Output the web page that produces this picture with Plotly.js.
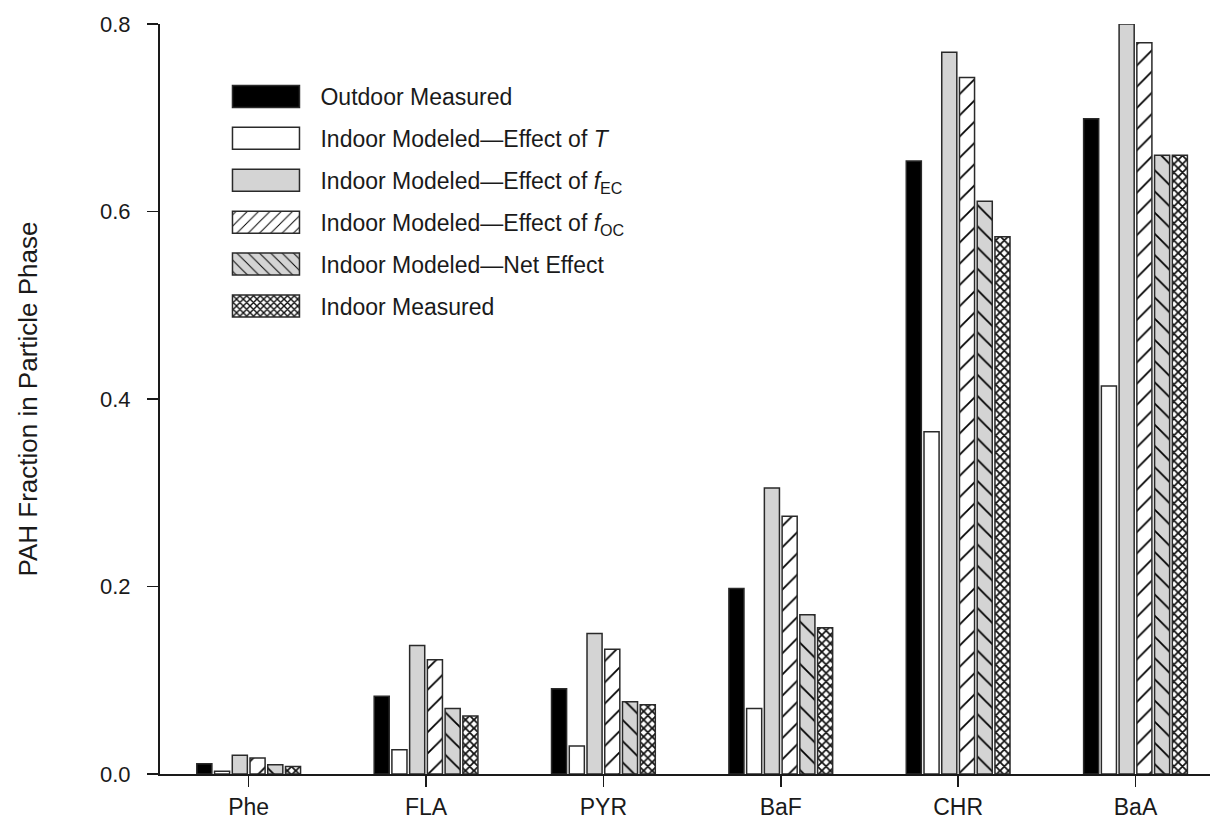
<!DOCTYPE html>
<html>
<head>
<meta charset="utf-8">
<script src="https://cdn.plot.ly/plotly-3.0.1.min.js"></script>
<style>
  html, body { margin: 0; padding: 0; background: #fff; }
  #chart { width: 1210px; height: 820px; }
</style>
</head>
<body>
<div id="chart"></div>
<script>
// ---- data ----
var categories = ['Phe', 'FLA', 'PYR', 'BaF', 'CHR', 'BaA'];
var outdoorMeasured = [0.011, 0.083, 0.091, 0.198, 0.654, 0.699];
var modeledT        = [0.003, 0.026, 0.030, 0.070, 0.365, 0.414];
var modeledFEC      = [0.020, 0.137, 0.150, 0.305, 0.770, 0.800];
var modeledFOC      = [0.017, 0.122, 0.133, 0.275, 0.743, 0.780];
var modeledNet      = [0.010, 0.070, 0.077, 0.170, 0.611, 0.660];
var indoorMeasured  = [0.008, 0.062, 0.074, 0.156, 0.573, 0.660];

var seriesNames = [
  'Outdoor Measured',
  'Indoor Modeled\u2014Effect of <i>T</i>',
  'Indoor Modeled\u2014Effect of <i>f</i><sub>EC</sub>',
  'Indoor Modeled\u2014Effect of <i>f</i><sub>OC</sub>',
  'Indoor Modeled\u2014Net Effect',
  'Indoor Measured'
];
var seriesValues = [outdoorMeasured, modeledT, modeledFEC, modeledFOC, modeledNet, indoorMeasured];

// ---- styles ----
var FONT = 'Liberation Sans, Arial, Helvetica, sans-serif';
var INK = '#1a1a1a';
var GRAY = '#d4d4d4';
var styles = [
  {color: '#000000', pattern: {shape: ''}},
  {color: '#ffffff', pattern: {shape: ''}},
  {color: GRAY, pattern: {shape: ''}},
  {color: '#ffffff', pattern: {shape: '/', size: 15, solidity: 0.12, fgcolor: '#000', bgcolor: '#ffffff', fillmode: 'replace'}},
  {color: GRAY, pattern: {shape: '\\', size: 15, solidity: 0.12, fgcolor: '#000', bgcolor: GRAY, fillmode: 'replace'}},
  {color: '#ffffff', pattern: {shape: 'x', size: 6, solidity: 0.5, fgcolor: '#111', bgcolor: '#ffffff', fillmode: 'replace'}}
];

var data = seriesValues.map(function (vals, i) {
  return {
    type: 'bar',
    name: seriesNames[i],
    x: categories,
    y: vals,
    legendgroup: 'g' + i,
    marker: {
      color: styles[i].color,
      pattern: styles[i].pattern,
      line: {color: '#2a2a2a', width: 1.5}
    },
    hoverinfo: 'skip'
  };
});

var layout = {
  width: 1210,
  height: 820,
  paper_bgcolor: '#ffffff',
  plot_bgcolor: '#ffffff',
  font: {family: FONT, color: INK, size: 22},
  margin: {l: 160, r: 0, t: 24, b: 46, pad: 0},
  barmode: 'group',
  bargap: 0.4,
  bargroupgap: 0.15,
  showlegend: true,
  legend: {
    x: 0.0576, xanchor: 'left',
    y: 0.932, yanchor: 'top',
    bgcolor: 'rgba(0,0,0,0)',
    borderwidth: 0,
    traceorder: 'grouped',
    tracegroupgap: 9,
    itemwidth: 90,
    font: {family: FONT, size: 23, color: INK}
  },
  xaxis: {
    type: 'category',
    range: [-0.5, 5.42],
    showline: true, linecolor: INK, linewidth: 2,
    ticks: 'outside', ticklen: 11, tickwidth: 1.5, tickcolor: INK,
    showgrid: false, zeroline: false,
    tickfont: {family: FONT, size: 23, color: INK},
    ticklabelstandoff: 0
  },
  yaxis: {
    range: [0, 0.8],
    tick0: 0, dtick: 0.2, tickformat: '.1f',
    showline: true, linecolor: INK, linewidth: 2,
    ticks: 'outside', ticklen: 11, tickwidth: 1.5, tickcolor: INK,
    showgrid: false, zeroline: false,
    tickfont: {family: FONT, size: 22, color: INK},
    ticklabelstandoff: 12,
    title: {text: 'PAH Fraction in Particle Phase', font: {family: FONT, size: 26, color: INK}, standoff: 55}
  },
  hovermode: false
};

var gd = document.getElementById('chart');
Plotly.newPlot(gd, data, layout, {staticPlot: true, displayModeBar: false}).then(function () {
  // enlarge the legend swatches to the wide rectangles used in the reference
  var sb = gd.querySelector('.legend .scrollbox');
  if (sb) sb.removeAttribute('clip-path');
  var items = gd.querySelectorAll('.legend .traces');
  items.forEach(function (it) {
    var txt = it.querySelector('text.legendtext');
    if (!txt) return;
    var tb = txt.getBoundingClientRect();
    it.querySelectorAll('.legendpoints path').forEach(function (p) {
      var pb = p.getBoundingClientRect();
      var cx = (pb.left + pb.right) / 2;
      var right = tb.left - 21 - cx;
      var left = right - 67;
      p.setAttribute('d', 'M' + left + ',-11H' + right + 'V11H' + left + 'Z');
    });
  });
});
</script>
</body>
</html>
